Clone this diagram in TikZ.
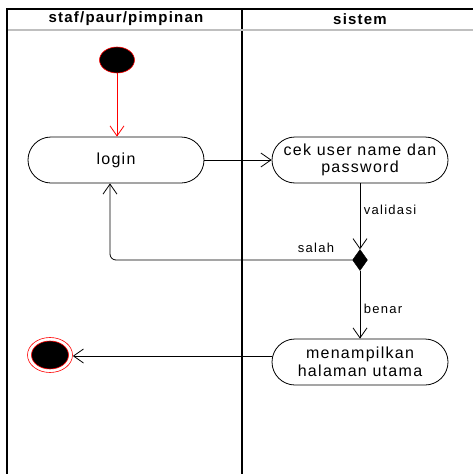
\documentclass[tikz,border=0pt]{standalone}
\usepackage{fontspec}
\setmainfont{Liberation Sans}
\newfontfamily\actfont[LetterSpace=8]{Liberation Sans}
\newfontfamily\lblfont[LetterSpace=10]{Liberation Sans}
\newfontfamily\headfont[LetterSpace=8]{Liberation Sans}
\usetikzlibrary{arrows.meta,shapes.misc,shapes.geometric}

\begin{document}
\begin{tikzpicture}[x=1pt,y=-1pt,
  act/.style={rounded rectangle, draw, line width=0.8pt, minimum width=176pt,
    minimum height=46pt, inner sep=0pt, align=center,
    font=\actfont\fontsize{16}{17.5}\selectfont},
  flow/.style={draw, line width=0.8pt, -{Straight Barb[length=10pt,width=14pt]}},
  lbl/.style={font=\lblfont\fontsize{13}{15}\selectfont, inner sep=0pt},
  head/.style={font=\headfont\bfseries\fontsize{15}{17}\selectfont, inner sep=0pt},
  lane/.style={line width=1.4pt}]

% canvas
\fill[white] (0,0) rectangle (473,474);
\useasboundingbox (0,0) rectangle (473,474);

% swimlane frame
\draw[lane] (7,474) -- (7,9) -- (473,9);
\draw[lane] (242,9) -- (242,474);
\draw[line width=1.6pt, black!25] (8,30) -- (473,30);
\node[head] (laneA) at (126,19) {staf/paur/pimpinan};
\node[head] (laneB) at (360,19) {sistem};

% initial and final nodes
\node[ellipse, fill=black, draw=red, line width=0.6pt, minimum width=35pt,
  minimum height=26pt, inner sep=0pt] (start) at (117,60) {};
\node[ellipse, draw=red, line width=0.6pt, minimum width=45pt,
  minimum height=35pt, inner sep=0pt] (endo) at (50,355) {};
\node[ellipse, fill=black, draw=red, line width=0.6pt, minimum width=37pt,
  minimum height=28pt, inner sep=0pt] (endi) at (50,355) {};

% activities
\node[act] (login) at (116,160) {login};
\node[act] (cek) at (360,160) {cek user name dan\\password};
\node[act] (tampil) at (360,362) {menampilkan\\halaman utama};

% decision
\node[diamond, fill=black, draw, inner sep=0pt, minimum width=15pt,
  minimum height=21pt] (dec) at (360,260) {};

% flows
\draw[flow, red] (start.south) -- (start.south |- login.north);
\draw[flow] (login.east) -- (cek.west);
\draw[flow] (cek.south) -- (dec.north);
\draw[flow, rounded corners=6pt] (dec.west) -| ([xshift=-6pt]login.south);
\draw[flow] (dec.south) -- (tampil.north);
\draw[flow] ([yshift=6pt]tampil.west) -- (endo.east |- 0,356);

% guard labels
\node[lbl] (lvalid) at (390,210) {validasi};
\node[lbl] (lsalah) at (316,248) {salah};
\node[lbl] (lbenar) at (383,309) {benar};
\end{tikzpicture}
\end{document}
